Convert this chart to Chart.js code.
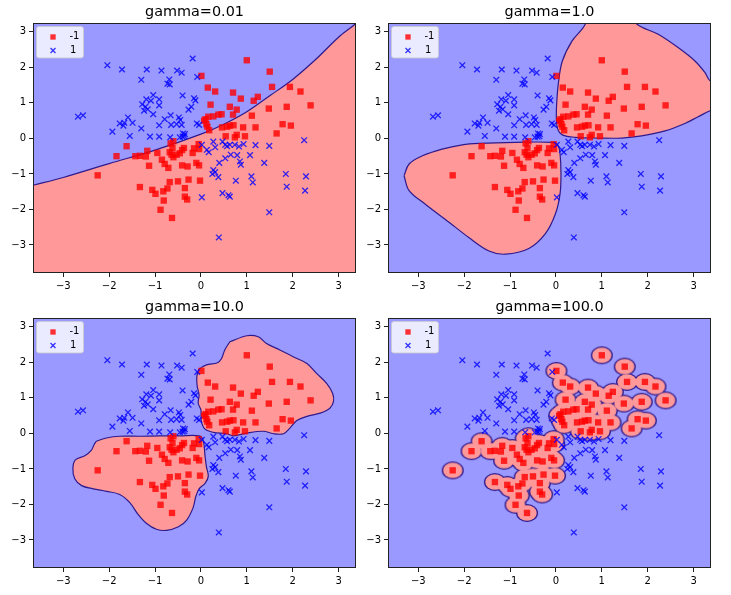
<!DOCTYPE html>
<html><head><meta charset="utf-8">
<script src="https://cdn.jsdelivr.net/npm/chart.js@4.4.1/dist/chart.umd.min.js"></script>
<style>
html,body{margin:0;padding:0;background:#fff;width:731px;height:595px;overflow:hidden;}
canvas{position:absolute;}
</style></head><body>
<canvas id="c0" width="365" height="295" style="left:0px;top:0px"></canvas>
<canvas id="c1" width="365" height="295" style="left:355px;top:0px"></canvas>
<canvas id="c2" width="365" height="295" style="left:0px;top:295px"></canvas>
<canvas id="c3" width="365" height="295" style="left:355px;top:295px"></canvas>
<script>
// ---------------- data ----------------
const xRange = [-3.66, 3.38];
const yRange = [-3.79, 3.25];
const xTicks = [-3, -2, -1, 0, 1, 2, 3];
const yTicks = [-3, -2, -1, 0, 1, 2, 3];
const gammaLabels = ['0.01', '1.0', '10.0', '100.0'];
const legendLabels = ['-1', '1'];

// class -1 (red squares)
const classNeg = [
 [1.0,2.2],[1.5,1.88],[0.01,1.76],[1.55,1.45],[1.94,1.45],[0.15,1.43],[0.31,1.32],[0.70,1.29],[2.17,1.32],
 [0.87,1.12],[1.24,1.17],[1.15,1.06],[0.21,0.95],[0.63,0.89],[0.78,0.81],[1.48,0.84],[1.87,0.89],[2.39,0.93],
 [0.70,0.67],[0.38,0.67],[0.45,0.68],[0.27,0.62],[1.11,0.64],[0.16,0.61],[0.10,0.54],[0.07,0.50],[0.12,0.40],
 [0.14,0.33],[0.18,0.23],[0.46,0.31],[0.57,0.33],[0.63,0.36],[0.71,0.37],[0.92,0.31],[1.19,0.31],[1.78,0.40],
 [1.96,0.36],[1.65,0.14],[0.78,0.10],[0.74,0.03],[0.96,0.06],[0.54,0.06],
 [-2.25,-1.04],[-1.84,-0.50],[-1.62,-0.22],[-1.43,-0.50],[-1.33,-0.49],[-1.20,-0.51],[-1.17,-0.35],[-1.13,-0.77],
 [-0.95,-0.41],[-0.85,-0.60],[-0.79,-0.72],[-0.71,-0.83],[-0.66,-0.14],[-0.60,-0.08],[-0.68,-0.39],[-0.64,-0.46],
 [-0.60,-0.53],[-0.53,-0.46],[-0.46,-0.42],[-0.41,-0.33],[-0.37,-0.27],[-0.18,-0.41],[-0.15,-0.28],[-0.05,-0.16],
 [-0.04,-0.30],[-0.41,-0.76],[-0.29,-0.79],[-0.10,-0.69],[-0.04,-0.76],[-1.33,-1.37],[-1.06,-1.45],[-0.99,-1.56],
 [-0.82,-1.49],[-0.73,-1.41],[-0.68,-1.23],[-0.50,-1.21],[-0.27,-1.16],[-0.02,-1.19],[-0.35,-1.40],[-0.35,-1.64],
 [-0.30,-1.72],[-0.81,-1.75],[-0.88,-2.01],[-0.63,-2.24],[-0.62,-0.27]
];
// class 1 (blue crosses)
const classPos = [
 [-2.04,2.06],[-1.72,1.94],[-1.18,1.94],[-0.86,1.91],[-0.52,1.91],[-0.42,1.85],[-0.18,2.25],[-1.30,1.65],
 [-0.69,1.66],[-0.73,1.54],[-0.68,1.52],[-0.08,1.73],[-0.40,1.21],[-1.04,1.22],[-1.19,1.10],[-0.91,1.10],
 [-1.09,1.06],[-0.15,1.13],[-0.12,1.07],[-1.28,0.96],[-1.21,0.89],[-1.24,0.78],[-1.16,0.82],[-0.91,0.93],
 [-1.04,0.68],[-0.21,0.89],[-0.27,0.81],[-0.66,0.65],[-0.79,0.54],[-0.48,0.59],[-0.45,0.52],[-1.59,0.59],
 [-1.77,0.42],[-1.67,0.44],[-1.69,0.36],[-1.49,0.44],[-2.68,0.61],[-2.57,0.65],[-1.93,0.19],[-1.30,0.28],
 [-1.55,0.07],[-1.11,0.05],[-0.91,0.05],[-0.91,0.37],[-0.67,0.03],[-0.53,0.40],[-0.65,0.38],[-0.42,0.38],
 [-0.39,0.14],[-0.35,0.12],[-0.36,0.06],[-0.40,0.05],[-0.46,0.03],[-0.09,0.42],[-0.04,0.38],
 [0.02,-0.18],[0.13,-0.32],[0.17,-0.39],[0.27,-0.09],[0.31,-0.25],[0.47,-0.09],[0.53,-0.18],[0.57,-0.22],
 [0.63,-0.18],[0.83,-0.23],[0.74,-0.18],[0.93,-0.16],[1.19,-0.19],[1.49,-0.21],[2.25,-0.05],[0.65,-0.46],
 [0.79,-0.47],[1.07,-0.47],[0.53,-0.56],[0.40,-0.69],[0.85,-0.65],[0.87,-0.74],[1.38,-0.69],[0.27,-0.89],
 [0.31,-0.95],[0.25,-1.0],[0.38,-1.09],[0.76,-1.19],[1.10,-1.07],[1.13,-1.24],[1.85,-1.0],[2.29,-1.07],
 [1.87,-1.36],[2.27,-1.47],[0.47,-1.54],[0.60,-1.60],[0.63,-1.64],[0.02,-1.66],[1.49,-2.08],[0.39,-2.79]
];

// gamma=0.01 : decision boundary (class -1 below)
const boundaryG001 = [
 [-3.9,-1.40],[-3.66,-1.32],[-3,-1.10],[-2,-0.71],[-1,-0.33],[0,0.12],[0.5,0.40],[1,0.75],
 [1.5,1.20],[2,1.66],[2.5,2.22],[3,2.85],[3.38,3.24],[3.6,3.55]
];
// gamma=1.0 : class -1 regions (closed outlines)
const regionG1a = [
 [0.64,3.6],[0.64,3.22],[0.35,2.74],[0.14,2.18],[0.06,1.62],[0.02,1.06],[0.01,0.59],[0.04,0.26],[0.14,0.10],
 [0.42,0.03],[0.93,0.01],[1.43,0.01],[1.87,0.07],[2.38,0.21],[2.81,0.42],[3.10,0.61],[3.36,0.78],[3.7,0.95],
 [3.7,1.4],[3.36,1.62],[3.25,1.85],[3.03,2.18],[2.67,2.55],[2.23,2.93],[1.76,3.22],[1.6,3.6],[0.64,3.6]
];
const regionG1b = [
 [-3.31,-1.05],[-3.20,-0.72],[-2.91,-0.49],[-2.48,-0.30],[-2.04,-0.18],[-1.68,-0.14],[-0.88,-0.11],[-0.09,-0.11],
 [0.04,-0.18],[0.09,-0.44],[0.11,-1.0],[0.09,-1.56],[-0.01,-2.12],[-0.23,-2.68],[-0.59,-3.10],[-1.10,-3.26],
 [-1.46,-3.17],[-1.90,-2.79],[-2.33,-2.36],[-2.84,-1.86],[-3.20,-1.47],[-3.31,-1.05]
];
// gamma=10.0 : class -1 regions
const regionG10a = [
 [0.63,2.58],[1.00,2.75],[1.25,2.72],[1.43,2.53],[1.72,2.35],[2.01,2.16],[2.31,1.97],[2.52,1.69],[2.74,1.41],
 [2.87,1.13],[2.89,0.90],[2.81,0.71],[2.60,0.57],[2.31,0.48],[2.09,0.36],[1.94,0.15],[1.80,-0.01],[1.58,-0.01],
 [1.36,0.06],[1.00,0.01],[0.71,-0.07],[0.56,-0.01],[0.27,0.03],[0.09,0.12],[0.01,0.34],[0.0,0.66],[-0.06,0.85],
 [-0.04,1.08],[-0.08,1.32],[-0.09,1.60],[-0.04,1.80],[0.12,1.93],[0.36,1.99],[0.45,2.11],[0.52,2.35],[0.63,2.58]
];
const regionG10b = [
 [-2.28,-0.22],[-2.06,-0.13],[-1.77,-0.08],[-1.33,-0.08],[-0.89,-0.07],[-0.46,-0.07],[-0.04,-0.07],[0.05,-0.20],
 [0.09,-0.64],[0.12,-0.94],[0.16,-1.21],[0.09,-1.41],[-0.04,-1.56],[-0.11,-1.77],[-0.17,-2.09],[-0.31,-2.44],
 [-0.49,-2.63],[-0.75,-2.73],[-0.97,-2.70],[-1.19,-2.53],[-1.37,-2.28],[-1.55,-1.95],[-1.77,-1.72],[-2.06,-1.63],
 [-2.35,-1.56],[-2.60,-1.47],[-2.75,-1.28],[-2.79,-0.97],[-2.73,-0.74],[-2.53,-0.63],[-2.39,-0.48],[-2.33,-0.32],[-2.28,-0.22]
];

// ---------------- styles ----------------
const BLUE_BG = '#9999ff', RED_BG = '#ff9999', EDGE = '#2e1a8c';
const RED_PT = 'rgba(255,0,0,0.8)', BLUE_PT = 'rgba(0,0,255,0.8)';
Chart.defaults.font.family = '"DejaVu Sans", sans-serif';

function ellipseImg(rx, ry, color) {
  const c = document.createElement('canvas');
  c.width = Math.ceil(rx * 2) + 2; c.height = Math.ceil(ry * 2) + 2;
  const g = c.getContext('2d');
  g.fillStyle = color; g.beginPath();
  g.ellipse(c.width / 2, c.height / 2, rx, ry, 0, 0, Math.PI * 2); g.fill();
  return c;
}
const blobOuter = ellipseImg(11.0, 9.0, EDGE);
const blobInner = ellipseImg(9.7, 7.7, RED_BG);

const toXY = arr => arr.map(([x, y]) => ({x, y}));
// Chart.js draws higher "order" first (underneath)
function regionDs(pts, fill) {
  return {type: 'line', data: toXY(pts), fill: fill, backgroundColor: RED_BG, borderColor: EDGE,
    borderWidth: 1.2, pointRadius: 0, tension: 0.35, clip: 0, order: 10};
}
function blobDs(img, order) {
  return {type: 'scatter', data: toXY(classNeg), pointStyle: img, pointRadius: 9, pointBorderWidth: 0,
    clip: 0, order: order};
}
const fmt = v => (v < 0 ? '\u2212' + Math.abs(v) : String(v));

const panelPlugin = {
  id: 'panel',
  beforeDraw(chart) {
    const {ctx, chartArea: a} = chart;
    ctx.save(); ctx.fillStyle = BLUE_BG; ctx.fillRect(a.left, a.top, a.width, a.height); ctx.restore();
  },
  afterDatasetsDraw(chart) {
    const {ctx, chartArea: a} = chart;
    ctx.save();
    ctx.beginPath();
    ctx.roundRect(a.left + 3.5, a.top + 3.5, 47, 31.5, 2.5);
    ctx.fillStyle = 'rgba(255,255,255,0.8)'; ctx.fill();
    ctx.strokeStyle = 'rgba(204,204,204,0.8)'; ctx.lineWidth = 1; ctx.stroke();
    ctx.fillStyle = RED_PT;
    Chart.helpers.drawPoint(ctx, {pointStyle: 'rect', radius: 3.8, borderWidth: 0, rotation: 0}, a.left + 20, a.top + 14);
    ctx.strokeStyle = BLUE_PT; ctx.lineWidth = 1.3;
    Chart.helpers.drawPoint(ctx, {pointStyle: 'crossRot', radius: 3.5, borderWidth: 1.3, rotation: 0}, a.left + 20, a.top + 27.5);
    ctx.fillStyle = '#000'; ctx.font = '10px "DejaVu Sans"'; ctx.textBaseline = 'middle'; ctx.textAlign = 'left';
    ctx.fillText(legendLabels[0], a.left + 36.5, a.top + 13.5);
    ctx.fillText(legendLabels[1], a.left + 37, a.top + 27.5);
    ctx.restore();
  },
  afterDraw(chart) {
    const {ctx, chartArea: a} = chart;
    ctx.save(); ctx.strokeStyle = '#222'; ctx.lineWidth = 1;
    ctx.strokeRect(Math.round(a.left) + 0.5, Math.round(a.top) + 0.5, Math.round(a.width) - 1, Math.round(a.height) - 1);
    ctx.restore();
  }
};

function axis(range, ticks, pos) {
  return {
    type: 'linear', position: pos, min: range[0], max: range[1],
    afterBuildTicks: s => { s.ticks = ticks.map(v => ({value: v})); },
    afterFit: s => { if (pos === 'left') s.width = 33; else s.height = 22; },
    grid: {display: true, drawOnChartArea: false, drawTicks: true, tickLength: 4, color: '#222', lineWidth: 1},
    border: {display: false},
    ticks: {callback: fmt, color: '#000', font: {size: 10}, padding: 3, maxRotation: 0, autoSkip: false}
  };
}

function makeChart(idx, regionSets) {
  return new Chart(document.getElementById('c' + idx), {
    type: 'line',
    data: {datasets: [
      ...regionSets,
      {type: 'scatter', data: toXY(classNeg), pointStyle: 'rect', pointRadius: 4.5, order: 2,
       pointBackgroundColor: RED_PT, pointBorderWidth: 0, pointBorderColor: RED_PT},
      {type: 'scatter', data: toXY(classPos), pointStyle: 'crossRot', pointRadius: 4, order: 1,
       pointBorderColor: BLUE_PT, pointBorderWidth: 1.3, pointBackgroundColor: BLUE_PT}
    ]},
    options: {
      responsive: false, animation: false, events: [], devicePixelRatio: 1,
      elements: {line: {capBezierPoints: false}},
      layout: {padding: {left: 0, right: 9, top: 0, bottom: 0}},
      plugins: {
        legend: {display: false}, tooltip: {enabled: false},
        title: {display: true, text: 'gamma=' + gammaLabels[idx], fullSize: false, color: '#000',
                font: {size: 14.4, weight: 'normal'}, padding: {top: 3.5, bottom: 2.2}}
      },
      scales: {x: axis(xRange, xTicks, 'bottom'), y: axis(yRange, yTicks, 'left')}
    },
    plugins: [panelPlugin]
  });
}

makeChart(0, [regionDs(boundaryG001, 'start')]);
makeChart(1, [regionDs(regionG1a, 'shape'), regionDs(regionG1b, 'shape')]);
makeChart(2, [regionDs(regionG10a, 'shape'), regionDs(regionG10b, 'shape')]);
makeChart(3, [blobDs(blobOuter, 21), blobDs(blobInner, 20)]);
</script>
</body></html>
